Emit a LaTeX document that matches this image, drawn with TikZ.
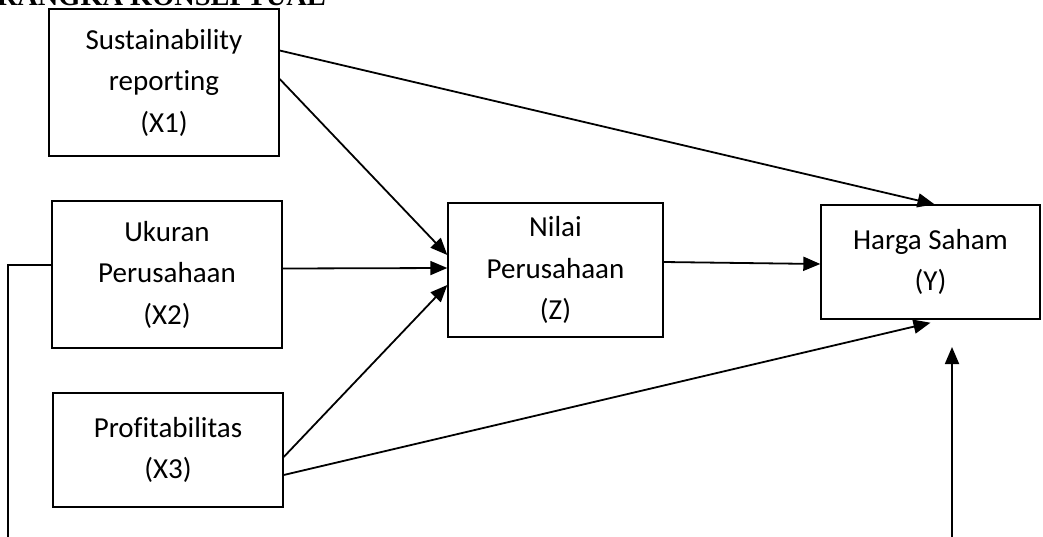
\documentclass[tikz,border=0pt]{standalone}
\usepackage{fontspec}
\setmainfont{Carlito}[Ligatures=NoCommon]
\newfontfamily\headfont{Liberation Serif}
\usetikzlibrary{arrows, arrows.meta}

\begin{document}
\begin{tikzpicture}[x=0.5pt, y=-0.5pt, >={Triangle[length=8.5pt,width=7pt]},
    var/.style={draw, line width=0.7pt, align=center, inner sep=0pt,
        font=\fontsize{14.5}{20.75}\selectfont},
    link/.style={line width=0.9pt}]
    \useasboundingbox (0,0) rectangle (1043,536);
    \clip (0,0) rectangle (1043,536);

    \node[anchor=base east, font=\headfont\bfseries\fontsize{14.2}{17}\selectfont] (head) at (333,5) {KERANGKA KONSEPTUAL};

    \node[var, minimum width=115pt, minimum height=73.5pt] (X1) at (164,82.5) {Sustainability\\reporting\\(X1)};
    \node[var, minimum width=115pt, minimum height=73.5pt] (X2) at (167,274.5) {Ukuran\\Perusahaan\\(X2)};
    \node[var, minimum width=115pt, minimum height=57pt] (X3) at (168,450) {Profitabilitas\\(X3)};
    \node[var, minimum width=107.5pt, minimum height=67pt] (Z) at (555.5,270) {Nilai\\Perusahaan\\(Z)};
    \node[var, minimum width=109.5pt, minimum height=57pt] (Y) at (930.5,262) {Harga Saham\\(Y)};

    \coordinate (B1) at (8,545);
    \coordinate (B2) at (952,545);
    \coordinate (T2) at (952,347);

    \draw[link,->] ([yshift=16pt]X1.east) -- ([xshift=2pt]Y.north);
    \draw[link,->] ([yshift=1.75pt]X1.east) -- ([yshift=7.5pt]Z.west);
    \draw[link,->] ([yshift=3pt]X2.east) -- ([yshift=1pt]Z.west);
    \draw[link,->] ([yshift=-3.5pt]X3.east) -- ([yshift=-7.5pt]Z.west);
    \draw[link,->] ([yshift=-12.5pt]X3.east) -- ([yshift=-1.5pt]Y.south);
    \draw[link,->] ([yshift=4pt]Z.east) -- ([yshift=-1pt]Y.west);
    \draw[link] ([yshift=4.75pt]X2.west) -| (B1);
    \draw[link,->] (B2) -- (T2);
\end{tikzpicture}
\end{document}
